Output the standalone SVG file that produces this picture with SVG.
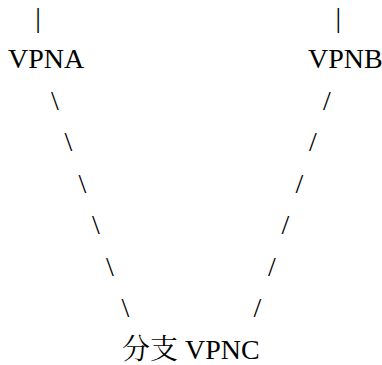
<svg xmlns="http://www.w3.org/2000/svg" width="382" height="365" viewBox="0 0 382 365">
<rect width="382" height="365" fill="#fff"/>
<g id="connectors" fill="#000">
<text x="35.2" y="26.5" font-family="Liberation Serif" font-size="28">|</text>
<text x="335.5" y="26.5" font-family="Liberation Serif" font-size="28">|</text>
<text x="51" y="109.5" font-family="Liberation Serif" font-size="28">\</text>
<text x="64.5" y="151" font-family="Liberation Serif" font-size="28">\</text>
<text x="78.5" y="192.5" font-family="Liberation Serif" font-size="28">\</text>
<text x="92" y="234" font-family="Liberation Serif" font-size="28">\</text>
<text x="106" y="275.5" font-family="Liberation Serif" font-size="28">\</text>
<text x="121.5" y="317" font-family="Liberation Serif" font-size="28">\</text>
<text x="323" y="109.5" font-family="Liberation Serif" font-size="28">/</text>
<text x="309" y="151" font-family="Liberation Serif" font-size="28">/</text>
<text x="295.5" y="192.5" font-family="Liberation Serif" font-size="28">/</text>
<text x="281.5" y="234" font-family="Liberation Serif" font-size="28">/</text>
<text x="268" y="275.5" font-family="Liberation Serif" font-size="28">/</text>
<text x="253.5" y="317" font-family="Liberation Serif" font-size="28">/</text>
</g>
<g id="node-vpna"><text x="8" y="68" font-family="Liberation Serif" font-size="28">VPNA</text></g>
<g id="node-vpnb"><text x="308" y="68" font-family="Liberation Serif" font-size="28">VPNB</text></g>
<g id="node-vpnc"><text x="122" y="358.5" font-family="Liberation Serif" font-size="28"><tspan font-family="Noto Serif CJK SC">分支</tspan> VPNC</text></g>
</svg>
